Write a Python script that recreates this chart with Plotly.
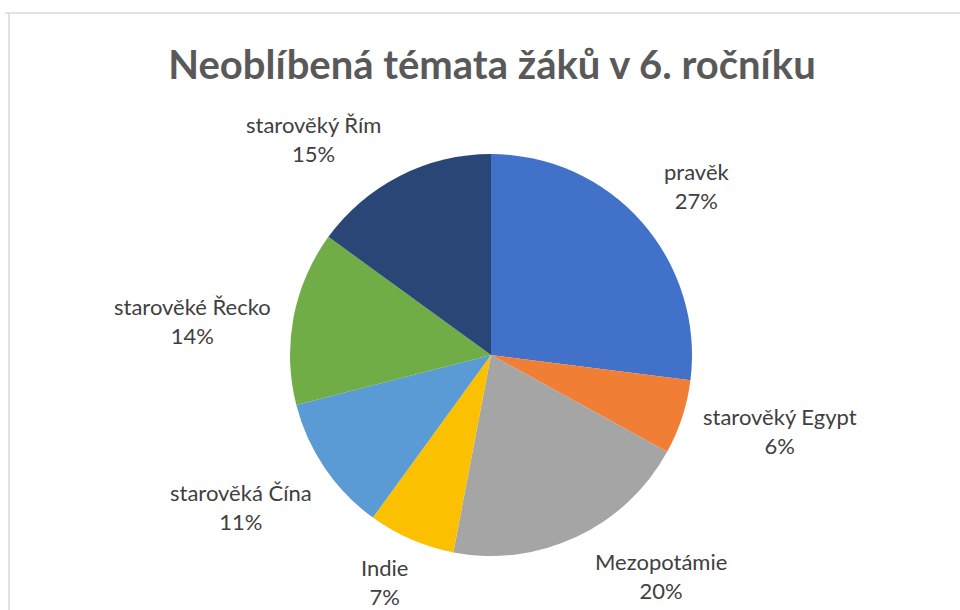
import math
import plotly.graph_objects as go

temata = ['pravěk', 'starověký Egypt', 'Mezopotámie', 'Indie',
          'starověká Čína', 'starověké Řecko', 'starověký Řím']
podil = [27, 6, 20, 7, 11, 14, 15]
barvy = ['#4171C8', '#F07F35', '#A5A5A5', '#FBC100',
         '#5B9BD5', '#70AD47', '#2A4677']

W, H = 960, 610
cx, cy, r = 491, 355, 201

# jemne posunuti popisku (px), jako rucne umistene popisky v Excelu
posun = [(2, 10), (-4, 6), (6, -13), (9, -9), (9, -4), (3, 8), (-6, 14)]

fig = go.Figure()
fig.add_trace(go.Pie(
    labels=temata, values=podil, sort=False, direction='clockwise', rotation=0,
    marker=dict(colors=barvy, line=dict(width=0)),
    textinfo='none', hoverinfo='label+percent',
    domain=dict(x=[(cx - r) / W, (cx + r) / W], y=[1 - (cy + r) / H, 1 - (cy - r) / H]),
    showlegend=False,
))

# popisky venku, podle stredu vysece
total = sum(podil)
annotations = []
cum = 0
for name, v, (dx, dy) in zip(temata, podil, posun):
    mid = (cum + v / 2) / total * 2 * math.pi
    cum += v
    s, c = math.sin(mid), math.cos(mid)
    R = r + 24
    px = cx + R * s + dx
    py = cy - R * c + dy
    xa = 'left' if s > 0.35 else ('right' if s < -0.35 else 'center')
    ya = 'bottom' if c > 0.35 else ('top' if c < -0.35 else 'middle')
    annotations.append(dict(
        x=px / W, y=1 - py / H, xref='paper', yref='paper',
        text=f'{name}<br>{round(v / total * 100)}%', showarrow=False,
        xanchor=xa, yanchor=ya, align='center',
        font=dict(family='Lato', size=22, color='#404040'),
    ))

fig.update_layout(
    width=W, height=H,
    margin=dict(l=0, r=0, t=0, b=0),
    paper_bgcolor='white', plot_bgcolor='white',
    title=dict(text='<b>Neoblíbená témata žáků v 6. ročníku</b>',
               x=492 / W, xanchor='center', y=1 - 65 / H, yanchor='middle',
               font=dict(family='Lato', size=40, color='#595959')),
    annotations=annotations,
    shapes=[
        dict(type='line', xref='paper', yref='paper', x0=5 / W, x1=1, y0=1 - 13 / H, y1=1 - 13 / H,
             line=dict(color='#D9D9D9', width=1.5)),
        dict(type='line', xref='paper', yref='paper', x0=9 / W, x1=9 / W, y0=0, y1=1 - 13 / H,
             line=dict(color='#D9D9D9', width=1.5)),
    ],
)

# bez okraje stranky, aby graf sedel na 960x610
fig.write_html('out.html', config={'displayModeBar': False},
               post_script="document.body.style.margin='0';")
